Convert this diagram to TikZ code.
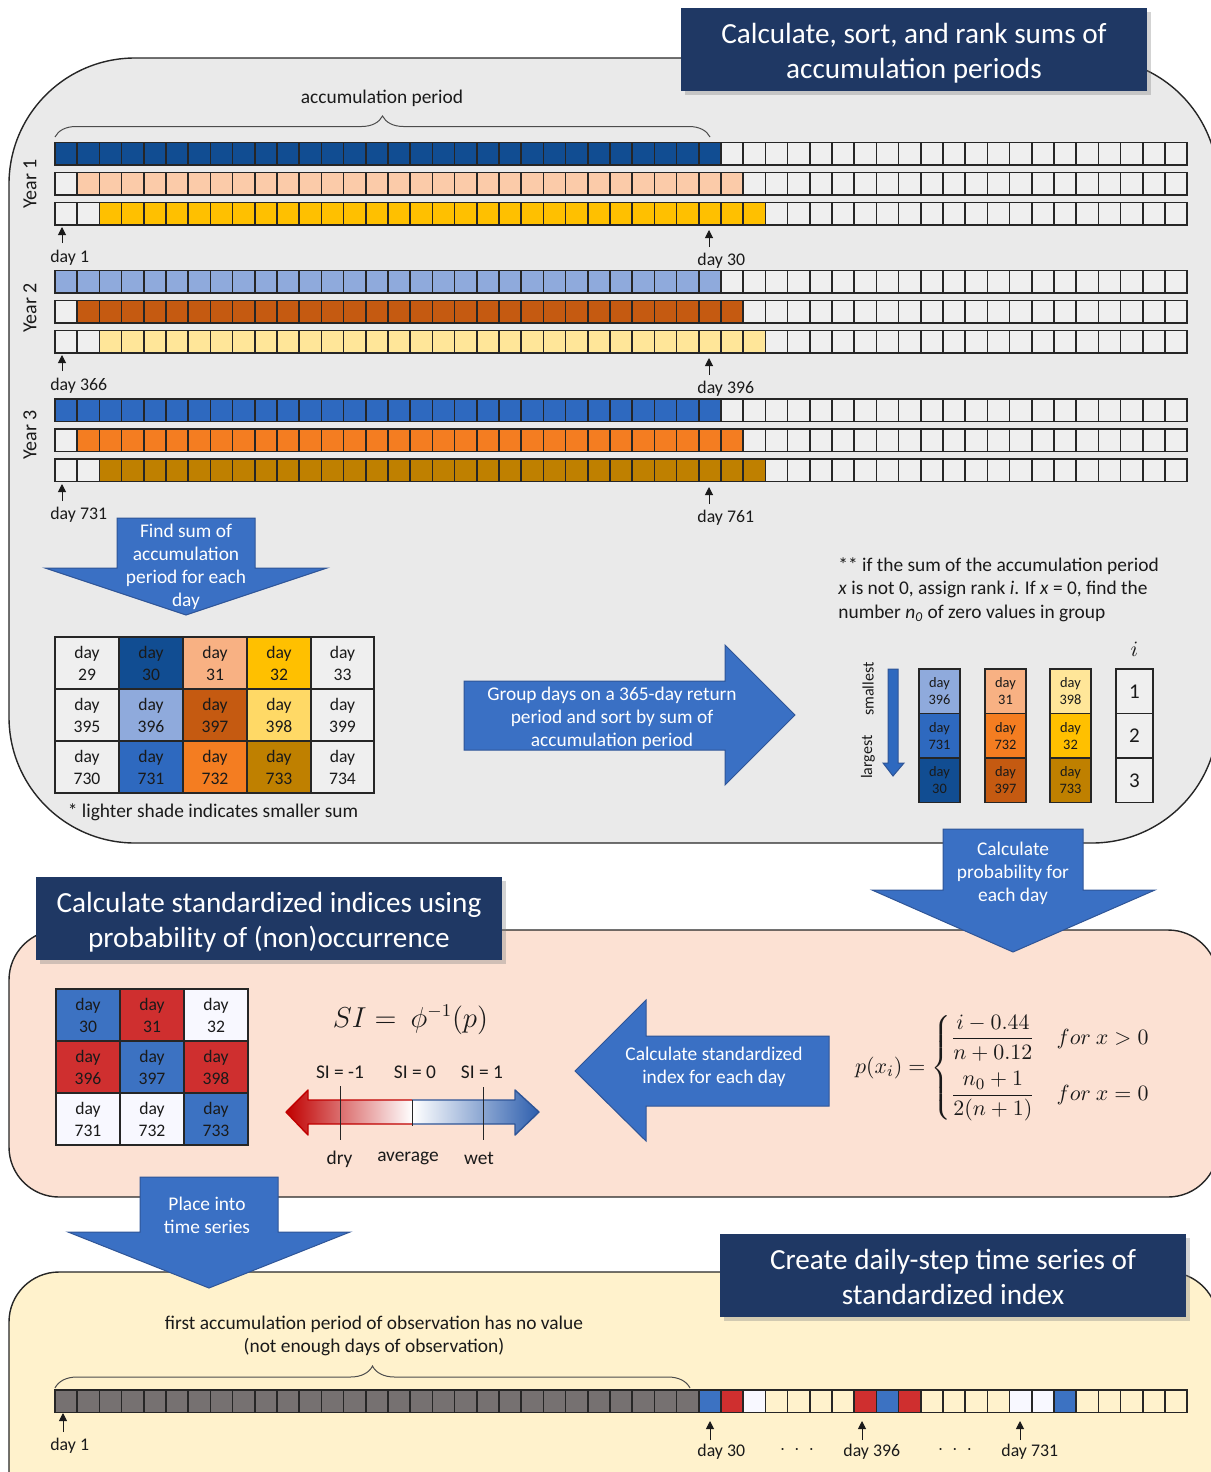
\documentclass[tikz,border=0pt]{standalone}
\usepackage{amsmath}
\usepackage{fontspec}
\setmainfont{Carlito}
\usetikzlibrary{arrows.meta,decorations.pathreplacing,shadows}

\definecolor{panelgray}{HTML}{EAEAEA}
\definecolor{cellgray}{HTML}{EFEFEF}
\definecolor{edge}{HTML}{262626}
\definecolor{dblue}{HTML}{114D92}
\definecolor{lblue}{HTML}{8FAADC}
\definecolor{mblue}{HTML}{2E69BF}
\definecolor{peachA}{HTML}{FBCBA9}
\definecolor{peachT}{HTML}{F8B183}
\definecolor{gold}{HTML}{FFC000}
\definecolor{dorange}{HTML}{C55A11}
\definecolor{pyellow}{HTML}{FFE699}
\definecolor{yellowT}{HTML}{FFD966}
\definecolor{orng}{HTML}{F47D21}
\definecolor{brwn}{HTML}{BF8000}
\definecolor{navy}{HTML}{1F3864}
\definecolor{arrowblue}{HTML}{3A70C4}
\definecolor{arrowedge}{HTML}{2F5597}
\definecolor{sired}{HTML}{CF2F2F}
\definecolor{siblue}{HTML}{3C72C2}
\definecolor{siwhite}{HTML}{F8F8FF}
\definecolor{panelpeach}{HTML}{FCE1D3}
\definecolor{panelyellow}{HTML}{FFF2CC}
\definecolor{tsgray}{HTML}{767171}
\definecolor{txtc}{HTML}{1A1A1A}
\definecolor{gradred}{HTML}{C00000}
\definecolor{gradblue}{HTML}{2E5FAE}

\newcommand\cellrow[5]{%
  \foreach \i in {1,...,51}{%
    \pgfmathsetmacro\xl{55+(\i-1)*22.2}%
    \ifnum\i<#2\relax\def\cellcol{#5}\else\ifnum\i>#3\relax\def\cellcol{#5}\else\def\cellcol{#4}\fi\fi
    \filldraw[cellbox, fill=\cellcol] (\xl,#1) rectangle ++(22.2,22.5);
  }%
}
\newcommand\daycell[8]{%
  \filldraw[cellbox, fill=#5] (#1,#2) rectangle ++(#3,#4);
  \pgfmathsetmacro\cxx{#1+#3/2}\pgfmathsetmacro\cyy{#2+#4/2}%
  \node[#8] (#7) at (\cxx,\cyy) {#6};
}
\newcommand\daymark[4]{%
  \coordinate (#4b) at (#1,#2);
  \coordinate (#4t) at (#1,#3);
  \draw[daymark] (#4b) -- (#4t);
}

\begin{document}
\begin{tikzpicture}[x=0.5pt,y=-0.5pt,
  every node/.style={text=txtc, inner sep=0pt},
  lbl/.style={font=\fontsize{9.7}{11.7}\selectfont, align=center, yshift=-1pt},
  daylbl/.style={font=\fontsize{8.9}{10.5}\selectfont, anchor=west, yshift=-1pt},
  celltxt/.style={font=\fontsize{8.8}{11}\selectfont, align=center},
  smalltxt/.style={font=\fontsize{7.2}{8.5}\selectfont, align=center},
  numtxt/.style={font=\fontsize{10.5}{12}\selectfont},
  arrowtxt/.style={font=\fontsize{9.7}{11.5}\selectfont, align=center, text=white, yshift=-1pt},
  titlebox/.style={fill=navy, minimum width=233pt, minimum height=41.5pt,
     drop shadow={shadow xshift=2pt, shadow yshift=-2pt, opacity=0.35}},
  titletxt/.style={text=white, font=\fontsize{14.6}{17.5}\selectfont, align=center},
  cellbox/.style={draw=edge, line width=0.75pt},
  barrow/.style={fill=arrowblue, draw=arrowedge, line width=0.5pt},
  daymark/.style={-{Triangle[length=4pt,width=4pt]}, line width=0.5pt, draw=txtc},
  panel/.style={draw=edge, line width=0.7pt},
  bracestyle/.style={decorate, draw=gray!60!black, line width=0.5pt},
  tick/.style={draw=edge, line width=0.5pt}]
\useasboundingbox (0,0) rectangle (1210,1472);

% ---------- panels ----------
\draw[panel, fill=panelgray, rounded corners=63pt] (9,58) rectangle (1218,843);
\draw[panel, fill=panelpeach, rounded corners=25pt] (9,930) rectangle (1218,1197);
\draw[panel, fill=panelyellow, rounded corners=25pt] (9,1272) rectangle (1218,1540);

% ---------- panel 1 ----------
\node[titlebox] (title1) at (914,49.5) {};
\node[titletxt] (title1t) at (914,53) {Calculate, sort, and rank sums of\\accumulation periods};

\coordinate (br1l) at (55,137);
\coordinate (br1r) at (710,137);
\draw[bracestyle, decoration={brace, amplitude=10.5pt}] (br1l) -- (br1r);
\node[lbl] (accp) at (382,96) {accumulation period};

\node[rotate=90, font=\fontsize{10}{12}\selectfont] (yr1) at (30,184) {Year 1};
\node[rotate=90, font=\fontsize{10}{12}\selectfont] (yr2) at (30,308) {Year 2};
\node[rotate=90, font=\fontsize{10}{12}\selectfont] (yr3) at (30,435) {Year 3};

\cellrow{142.5}{1}{30}{dblue}{cellgray}
\cellrow{172.5}{2}{31}{peachA}{cellgray}
\cellrow{202.5}{3}{32}{gold}{cellgray}
\cellrow{270.5}{1}{30}{lblue}{cellgray}
\cellrow{300.5}{2}{31}{dorange}{cellgray}
\cellrow{330.5}{3}{32}{pyellow}{cellgray}
\cellrow{399}{1}{30}{mblue}{cellgray}
\cellrow{429}{2}{31}{orng}{cellgray}
\cellrow{459}{3}{32}{brwn}{cellgray}

\daymark{62}{243}{227}{ma}
\daymark{709}{247}{230}{mb}
\daymark{62}{371}{355}{mc}
\daymark{709}{375}{358}{md}
\daymark{62}{501}{484}{me}
\daymark{709}{504}{487}{mf}
\node[daylbl] (la) at (50,256) {day 1};
\node[daylbl] (lb) at (697,259) {day 30};
\node[daylbl] (lc) at (50,384) {day 366};
\node[daylbl] (ld) at (697,387) {day 396};
\node[daylbl] (le) at (50,513) {day 731};
\node[daylbl] (lf) at (697,516) {day 761};

% arrow: find sum
\fill[barrow] (117,518) -- (255,518) -- (255,568) -- (327,568) -- (186,615) -- (45,568) -- (117,568) -- cycle;
\node[arrowtxt] (findsum) at (186,564.5) {Find sum of\\accumulation\\period for each\\day};

% table of sums
\daycell{55}{637}{64}{52}{cellgray}{day\\29}{c11}{celltxt}
\daycell{119}{637}{64}{52}{dblue}{day\\30}{c12}{celltxt}
\daycell{183}{637}{64}{52}{peachT}{day\\31}{c13}{celltxt}
\daycell{247}{637}{64}{52}{gold}{day\\32}{c14}{celltxt}
\daycell{311}{637}{63}{52}{cellgray}{day\\33}{c15}{celltxt}
\daycell{55}{689}{64}{52}{cellgray}{day\\395}{c21}{celltxt}
\daycell{119}{689}{64}{52}{lblue}{day\\396}{c22}{celltxt}
\daycell{183}{689}{64}{52}{dorange}{day\\397}{c23}{celltxt}
\daycell{247}{689}{64}{52}{yellowT}{day\\398}{c24}{celltxt}
\daycell{311}{689}{63}{52}{cellgray}{day\\399}{c25}{celltxt}
\daycell{55}{741}{64}{52}{cellgray}{day\\730}{c31}{celltxt}
\daycell{119}{741}{64}{52}{mblue}{day\\731}{c32}{celltxt}
\daycell{183}{741}{64}{52}{orng}{day\\732}{c33}{celltxt}
\daycell{247}{741}{64}{52}{brwn}{day\\733}{c34}{celltxt}
\daycell{311}{741}{63}{52}{cellgray}{day\\734}{c35}{celltxt}
\node[lbl] (shade) at (213,810) {* lighter shade indicates smaller sum};

% arrow: group days
\fill[barrow] (464,681) -- (725,681) -- (725,645) -- (795,715) -- (725,785) -- (725,750) -- (464,750) -- cycle;
\node[arrowtxt] (group) at (612,716.5) {Group days on a 365-day return\\period and sort by sum of\\accumulation period};

% note
\node[lbl, align=left, anchor=west, font=\fontsize{9.7}{11.8}\selectfont] (note) at (838,587.5)
  {** if the sum of the accumulation period\\\textit{x} is not 0, assign rank \textit{i}. If \textit{x} = 0, find the\\number \textit{n}\textsubscript{\textit{0}} of zero values in group};

% sort arrow
\fill[barrow, fill=mblue] (888,669) -- (898,669) -- (898,763) -- (904,763) -- (893,776) -- (883,763) -- (888,763) -- cycle;
\node[rotate=90, font=\fontsize{8}{9}\selectfont] (smallest) at (868,689) {smallest};
\node[rotate=90, font=\fontsize{8}{9}\selectfont] (largest) at (868,757) {largest};

% ranked table
\daycell{919}{669}{41}{44.5}{lblue}{day\\396}{r11}{smalltxt}
\daycell{919}{713.5}{41}{44.5}{mblue}{day\\731}{r21}{smalltxt}
\daycell{919}{758}{41}{44.5}{dblue}{day\\30}{r31}{smalltxt}
\daycell{985}{669}{41}{44.5}{peachT}{day\\31}{r12}{smalltxt}
\daycell{985}{713.5}{41}{44.5}{orng}{day\\732}{r22}{smalltxt}
\daycell{985}{758}{41}{44.5}{dorange}{day\\397}{r32}{smalltxt}
\daycell{1050}{669}{41}{44.5}{pyellow}{day\\398}{r13}{smalltxt}
\daycell{1050}{713.5}{41}{44.5}{gold}{day\\32}{r23}{smalltxt}
\daycell{1050}{758}{41}{44.5}{brwn}{day\\733}{r33}{smalltxt}
\daycell{1116}{669}{37}{44.5}{cellgray}{1}{i1}{numtxt}
\daycell{1116}{713.5}{37}{44.5}{cellgray}{2}{i2}{numtxt}
\daycell{1116}{758}{37}{44.5}{cellgray}{3}{i3}{numtxt}
\node[font=\fontsize{11}{13}\selectfont] (ilbl) at (1134.5,649) {$i$};

% ---------- panel 2 ----------
\fill[barrow] (943,829) -- (1083,829) -- (1083,890) -- (1155,890) -- (1013,952) -- (872,890) -- (943,890) -- cycle;
\node[arrowtxt] (calcprob) at (1013,871.5) {Calculate\\probability for\\each day};

\node[titlebox] (title2) at (269,918.5) {};
\node[titletxt] (title2t) at (269,922) {Calculate standardized indices using\\probability of (non)occurrence};

\daycell{56}{989}{64}{52}{siblue}{day\\30}{s11}{celltxt}
\daycell{120}{989}{64}{52}{sired}{day\\31}{s12}{celltxt}
\daycell{184}{989}{64}{52}{siwhite}{day\\32}{s13}{celltxt}
\daycell{56}{1041}{64}{52}{sired}{day\\396}{s21}{celltxt}
\daycell{120}{1041}{64}{52}{siblue}{day\\397}{s22}{celltxt}
\daycell{184}{1041}{64}{52}{sired}{day\\398}{s23}{celltxt}
\daycell{56}{1093}{64}{52}{siwhite}{day\\731}{s31}{celltxt}
\daycell{120}{1093}{64}{52}{siwhite}{day\\732}{s32}{celltxt}
\daycell{184}{1093}{64}{52}{siblue}{day\\733}{s33}{celltxt}

\node[font=\fontsize{13.5}{16}\selectfont] (siform) at (410.5,1020) {$SI =\ \phi^{-1}(p)$};

% gradient double arrow
\shade[left color=gradred, right color=gradblue, middle color=white]
  (286,1112) -- (308,1090) -- (308,1100) -- (515,1100) -- (515,1090) -- (539,1112) -- (515,1135) -- (515,1124) -- (308,1124) -- (308,1135) -- cycle;
\begin{scope}
  \clip (270,1080) rectangle (412,1150);
  \draw[draw=gradred, line width=0.7pt, line join=round]
  (286,1112) -- (308,1090) -- (308,1100) -- (515,1100) -- (515,1090) -- (539,1112) -- (515,1135) -- (515,1124) -- (308,1124) -- (308,1135) -- cycle;
\end{scope}
\begin{scope}
  \clip (412,1080) rectangle (560,1150);
  \draw[draw=arrowedge, line width=0.7pt, line join=round]
  (286,1112) -- (308,1090) -- (308,1100) -- (515,1100) -- (515,1090) -- (539,1112) -- (515,1135) -- (515,1124) -- (308,1124) -- (308,1135) -- cycle;
\end{scope}
\coordinate (tk1a) at (340.5,1086); \coordinate (tk1b) at (340.5,1140);
\coordinate (tk2a) at (412,1100); \coordinate (tk2b) at (412,1126);
\coordinate (tk3a) at (483.5,1087); \coordinate (tk3b) at (483.5,1140);
\draw[tick] (tk1a) -- (tk1b);
\draw[tick] (tk2a) -- (tk2b);
\draw[tick] (tk3a) -- (tk3b);
\node[lbl] (sim1) at (340,1070) {SI = -1};
\node[lbl] (si0) at (415,1070) {SI = 0};
\node[lbl] (si1) at (482,1070) {SI = 1};
\node[lbl] (dry) at (339.5,1157) {dry};
\node[lbl] (avg) at (408,1156) {average};
\node[lbl] (wet) at (479,1156) {wet};

% arrow: calculate standardized index
\fill[barrow] (829,1036) -- (646,1036) -- (646,1000) -- (575,1071) -- (646,1141) -- (646,1106) -- (829,1106) -- cycle;
\node[arrowtxt] (calcsi) at (714,1065) {Calculate standardized\\index for each day};

\node[font=\fontsize{11}{13}\selectfont] (pform) at (1003,1068)
  {$p(x_i) = \begin{cases} \dfrac{i-0.44}{n+0.12} & for\ x>0\\[9pt] \dfrac{n_0+1}{2(n+1)} & for\ x=0\end{cases}$};

% ---------- panel 3 ----------
\fill[barrow] (140,1177) -- (278,1177) -- (278,1232) -- (350,1232) -- (209,1288) -- (68,1232) -- (140,1232) -- cycle;
\node[arrowtxt] (place) at (207,1213) {Place into\\time series};

\node[titlebox] (title3) at (953,1275) {};
\node[titletxt] (title3t) at (953,1277) {Create daily-step time series of\\standardized index};

\node[lbl] (firstacc) at (374,1334) {first accumulation period of observation has no value\\(not enough days of observation)};
\coordinate (br2l) at (55,1388);
\coordinate (br2r) at (690,1388);
\draw[bracestyle, decoration={brace, amplitude=11pt}] (br2l) -- (br2r);

\cellrow{1390}{1}{29}{tsgray}{panelyellow}
\foreach \i/\c in {30/siblue,31/sired,32/siwhite,37/sired,38/siblue,39/sired,44/siwhite,45/siwhite,46/siblue}{
  \pgfmathsetmacro\xl{55+(\i-1)*22.2}
  \filldraw[cellbox, fill=\c] (\xl,1390) rectangle ++(22.2,22.5);
}
\daymark{63}{1432}{1413}{mg}
\daymark{710}{1440}{1421}{mh}
\daymark{862}{1440}{1421}{mi}
\daymark{1020}{1440}{1421}{mj}
\node[daylbl] (lg) at (50,1444) {day 1};
\node[daylbl] (lh) at (697,1450) {day 30};
\node[daylbl] (li) at (843,1450) {day 396};
\node[daylbl] (lj) at (1001,1450) {day 731};
\node[lbl] (dots1) at (797,1448) {$\cdot\ \cdot\ \cdot$};
\node[lbl] (dots2) at (955,1448) {$\cdot\ \cdot\ \cdot$};
\end{tikzpicture}
\end{document}
